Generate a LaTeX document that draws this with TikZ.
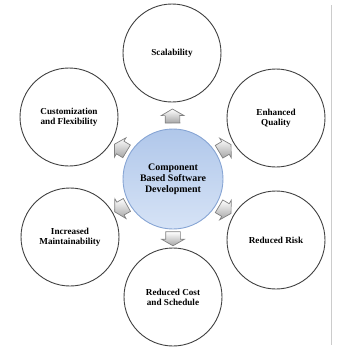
\documentclass[tikz,border=0pt]{standalone}
\usepackage{fontspec}
\setmainfont{Liberation Serif}
\usetikzlibrary{shapes.arrows}

\definecolor{hubfill}{RGB}{176,199,234}
\definecolor{hublight}{RGB}{214,227,246}
\definecolor{hubline}{RGB}{135,165,212}

\begin{document}
\begin{tikzpicture}[x=1bp,y=-1bp,
  bubble/.style={shape=circle,draw=black!75,line width=0.9bp,minimum size=98bp,inner sep=0pt,align=center,font=\fontsize{9.2}{10}\selectfont\bfseries},
  hub/.style={bubble,minimum size=100bp,draw=hubline,top color=hubfill,bottom color=hublight,font=\fontsize{10}{11}\selectfont\bfseries},
  push/.style={single arrow,draw=black!50,line width=0.7bp,top color=white,bottom color=black!35,inner xsep=0pt,inner ysep=7bp,minimum height=14bp,single arrow head extend=4bp,single arrow tip angle=120,sloped,allow upside down,pos=0.4}]
\useasboundingbox (0,0) rectangle (339,355);

\draw[black!20,line width=1bp] (331,5) -- (331,345);

\node[hub] (CBSD) at (173,179) {Component\\Based Software\\Development};

\node[bubble] (S) at (172,53) {Scalability};
\node[bubble] (CF) at (69,117) {Customization\\and Flexibility};
\node[bubble] (EQ) at (276,118) {Enhanced\\Quality};
\node[bubble] (IM) at (70,237) {Increased\\Maintainability};
\node[bubble] (RR) at (276,240) {Reduced Risk};
\node[bubble] (RC) at (173,297) {Reduced Cost\\and Schedule};

\path (CBSD) -- node[push] {} (S);
\path (CBSD) -- node[push] {} (CF);
\path (CBSD) -- node[push] {} (EQ);
\path (CBSD) -- node[push] {} (IM);
\path (CBSD) -- node[push] {} (RR);
\path (CBSD) -- node[push] {} (RC);
\end{tikzpicture}
\end{document}
